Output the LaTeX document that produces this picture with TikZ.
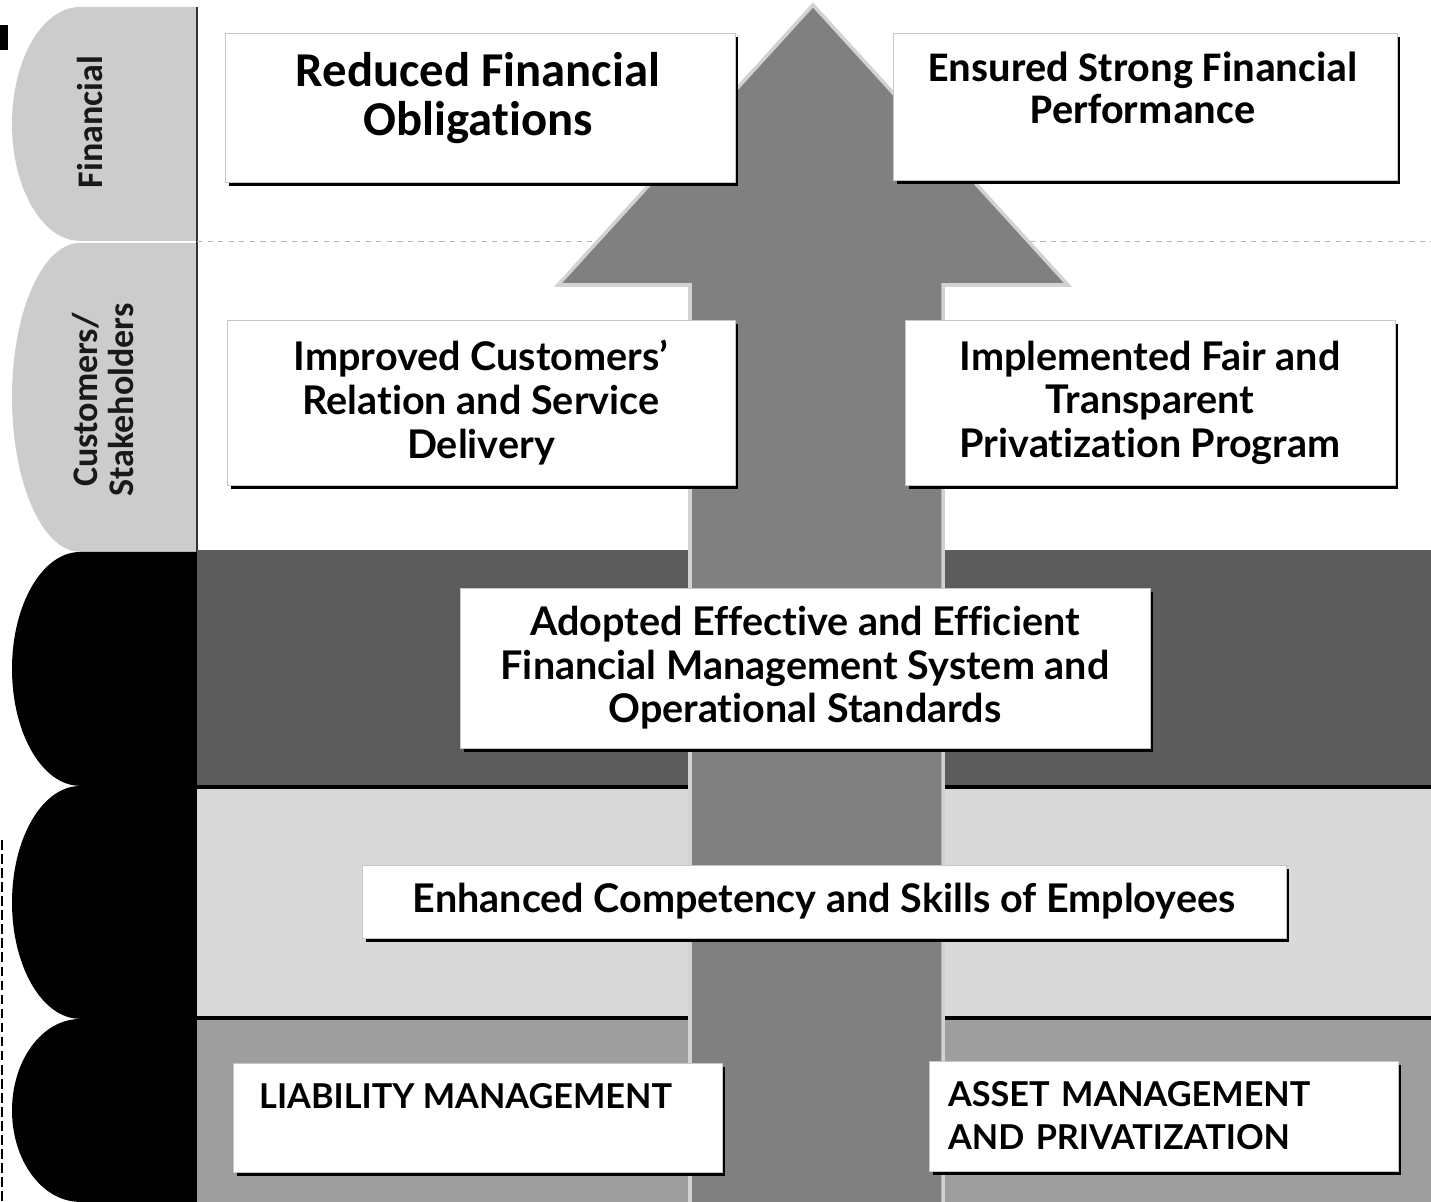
\documentclass[tikz,border=0pt]{standalone}
\usepackage{fontspec}
\setmainfont{Lato}[Ligatures=NoCommon]
\newfontfamily\tabfont{Carlito}[Ligatures=NoCommon]
\usetikzlibrary{shadows}

\definecolor{tabgray}{gray}{0.80}
\definecolor{banddark}{gray}{0.36}
\definecolor{bandlight}{gray}{0.85}
\definecolor{bandmid}{gray}{0.62}
\definecolor{arrowgray}{gray}{0.50}

\tikzset{
  goal/.style={draw=gray!45, fill=white, inner sep=0pt, align=center,
    drop shadow={shadow xshift=2pt, shadow yshift=-2.5pt, fill=black, opacity=1}},
  goaltxt/.style={font=\bfseries\fontsize{22.5}{24.8}\selectfont, align=center},
  capstxt/.style={font=\bfseries\fontsize{19.5}{24.5}\selectfont},
  toptxt/.style={font=\tabfont\bfseries\fontsize{24}{24}\selectfont, align=center},
  tablbl/.style={rotate=90, font=\tabfont\bfseries\fontsize{20.5}{20}\selectfont, text=black!90, align=center}
}

\begin{document}
\begin{tikzpicture}[x=0.02cm, y=-0.02cm]
\useasboundingbox (0,0) rectangle (1431,1202);
\fill[white] (0,0) rectangle (1431,1202);

% perspective tabs
\foreach \t/\b/\c in {7/241/tabgray, 243/552/tabgray, 552/786/black, 786/1019/black, 1019/1202/black}
  \fill[\c] (197,\t) -- (80,\t) arc[start angle=90, end angle=270, x radius=1.36cm, y radius={(\b-\t)*0.01cm}] -- (197,\b) -- cycle;
\draw[black!80, line width=0.6pt] (197,7) -- (197,552);
\fill[black] (0,25) rectangle (8,50);
\draw[black, line width=1.5pt, dash pattern=on 5.5pt off 2.5pt] (2,840) -- (2,1202);

\node[tablbl] (fin) at (90,122) {Financial};
\node[tablbl] (cus) at (103,400) {Customers/\\Stakeholders};

% bands
\draw[gray!60, dashed, line width=0.4pt] (197,241) -- (1431,241);
\fill[banddark] (197,550) rectangle (1431,787);
\fill[bandlight] (197,787) rectangle (1431,1018);
\fill[bandmid] (197,1018) rectangle (1431,1202);
\draw[black, line width=2.2pt] (197,787) -- (1431,787);
\draw[black, line width=2.2pt] (197,1018) -- (1431,1018);

% big arrow
\fill[arrowgray, draw=gray!35, line width=2pt, line join=miter]
  (690,1202) -- (690,285) -- (558,285) -- (813,5) -- (1068,285) -- (943,285) -- (943,1202);

% objectives
\node[goal, minimum width=10.2cm, minimum height=2.98cm] (red) at (480,107.5) {};
\node[toptxt, font=\tabfont\bfseries\fontsize{27.7}{27.5}\selectfont] (red-t) at (478,98) {Reduced Financial\\Obligations};
\node[goal, minimum width=10.08cm, minimum height=2.94cm] (ens) at (1145,106.5) {};
\node[toptxt] (ens-t) at (1143,88) {Ensured Strong Financial\\Performance};

\node[goal, goaltxt, minimum width=10.16cm, minimum height=3.3cm] (imp) at (481,402.5) {Improved Customers'\\Relation and Service\\Delivery};
\node[goal, goaltxt, minimum width=9.8cm, minimum height=3.3cm] (fair) at (1150,402.5) {Implemented Fair and\\Transparent\\Privatization Program};

\node[goal, goaltxt, minimum width=13.8cm, minimum height=3.2cm] (fms) at (805,668) {Adopted Effective and Efficient\\Financial Management System and\\Operational Standards};

\node[goal, goaltxt, minimum width=18.48cm, minimum height=1.46cm] (emp) at (824,901.5) {Enhanced Competency and Skills of Employees};

\node[goal, minimum width=9.78cm, minimum height=2.18cm] (lia) at (477.5,1117.5) {};
\node[capstxt, anchor=west] (lia-t) at (253,1096) {LIABILITY MANAGEMENT};
\node[goal, capstxt, align=left, text width=8.62cm, minimum width=9.38cm, minimum height=2.2cm] (ast) at (1163.5,1116) {ASSET MANAGEMENT\\AND PRIVATIZATION};
\end{tikzpicture}
\end{document}
